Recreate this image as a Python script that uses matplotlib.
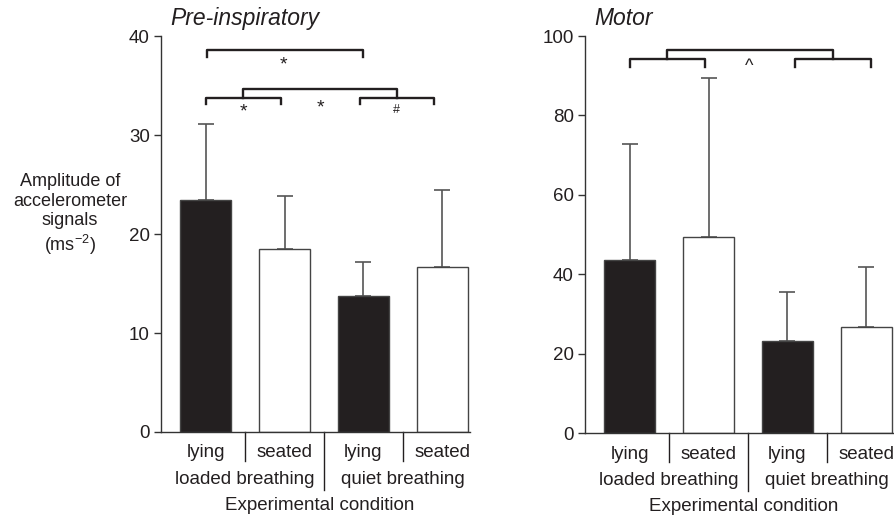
import matplotlib
matplotlib.use("Agg")
import matplotlib.pyplot as plt
import matplotlib.transforms as mtr

plt.rcParams.update({"font.family": ["Liberation Sans", "DejaVu Sans"], "font.size": 13.5,
                     "text.color": "#231f20", "axes.edgecolor": "#333333"})
INK = "#231f20"

positions = ["lying", "seated", "lying", "seated"]
groups = ["loaded breathing", "quiet breathing"]
fills = [INK, "white", INK, "white"]

pre_mean = [23.4, 18.5, 13.7, 16.7]
pre_top = [31.1, 23.8, 17.2, 24.4]
mot_mean = [43.5, 49.4, 23.2, 26.7]
mot_top = [72.8, 89.4, 35.5, 41.8]

# brackets: (x0, x1, y, leg) in data units; labels: (x, y, text, size)
pre_brackets = [(0.02, 2.0, 38.6, 0.7), (0.01, 0.96, 33.7, 0.6), (1.95, 2.90, 33.7, 0.6), (0.48, 2.42, 34.6, 0.9)]
pre_marks = [(0.99, 37.1, "*", 14), (0.48, 32.3, "*", 14), (1.45, 32.7, "*", 14), (2.42, 32.5, "#", 9)]
mot_brackets = [(0.0, 0.95, 94.2, 2.0), (2.10, 3.06, 94.2, 2.0), (0.47, 2.58, 96.5, 2.3)]
mot_marks = [(1.51, 92.4, "^", 13)]

fig = plt.figure(figsize=(8.94, 5.15), dpi=100)
ax1 = fig.add_axes([161/894, 1-432/515, 309/894, 396/515])
ax2 = fig.add_axes([585/894, 1-433/515, 309/894, 397/515])

x = list(range(len(positions)))
for ax, mean, top, ymax, step, br, mk, title in [
        (ax1, pre_mean, pre_top, 40, 10, pre_brackets, pre_marks, "Pre-inspiratory"),
        (ax2, mot_mean, mot_top, 100, 20, mot_brackets, mot_marks, "Motor")]:
    ax.bar(x, mean, width=0.645, color=fills, edgecolor="#444444", linewidth=1, zorder=2)
    ax.errorbar(x, mean, yerr=[[0]*4, [t-m for t, m in zip(top, mean)]], fmt="none",
                ecolor="#555555", elinewidth=1.2, capsize=5.5, capthick=1.2, zorder=1)
    ax.set_xlim(-0.565, 3.35)
    ax.set_ylim(0, ymax)
    ax.set_yticks(range(0, ymax+1, step))
    ax.set_xticks([])
    ax.tick_params(axis="y", length=5, width=1, color="#333333", labelcolor=INK, labelsize=13.5, pad=3)
    for s in ["top", "right"]:
        ax.spines[s].set_visible(False)
    ax.spines["left"].set_linewidth(1)
    ax.spines["bottom"].set_linewidth(1)
    tr = mtr.blended_transform_factory(ax.transData, ax.transAxes)
    for sx, depth in [(0.5, -0.073), (1.5, -0.146), (2.5, -0.073)]:
        ax.plot([sx, sx], [0, depth], transform=tr, color=INK, lw=1, clip_on=False)
    for i, p in enumerate(positions):
        ax.text(i, -0.053, p, transform=tr, ha="center", va="center")
    for gx, g in zip([0.5, 2.5], groups):
        ax.text(gx, -0.12, g, transform=tr, ha="center", va="center")
    ax.text(1.45, -0.185, "Experimental condition", transform=tr, ha="center", va="center")
    for x0, x1, y, leg in br:
        ax.plot([x0, x0, x1, x1], [y-leg, y, y, y-leg], color=INK, lw=1.7, clip_on=False, zorder=3)
    for mx, my, t, fs in mk:
        ax.text(mx, my, t, ha="center", va="center", fontsize=fs)
    ax.text(0.03, 1.045, title, transform=ax.transAxes, ha="left", va="center", fontsize=16.5, style="italic")

fig.text(70/894, 1-215/515, "Amplitude of\naccelerometer\nsignals\n(ms$^{\\mathregular{-2}}$)", ha="center", va="center",
         fontsize=13, linespacing=1.2)

fig.savefig("out.png", dpi=100)
